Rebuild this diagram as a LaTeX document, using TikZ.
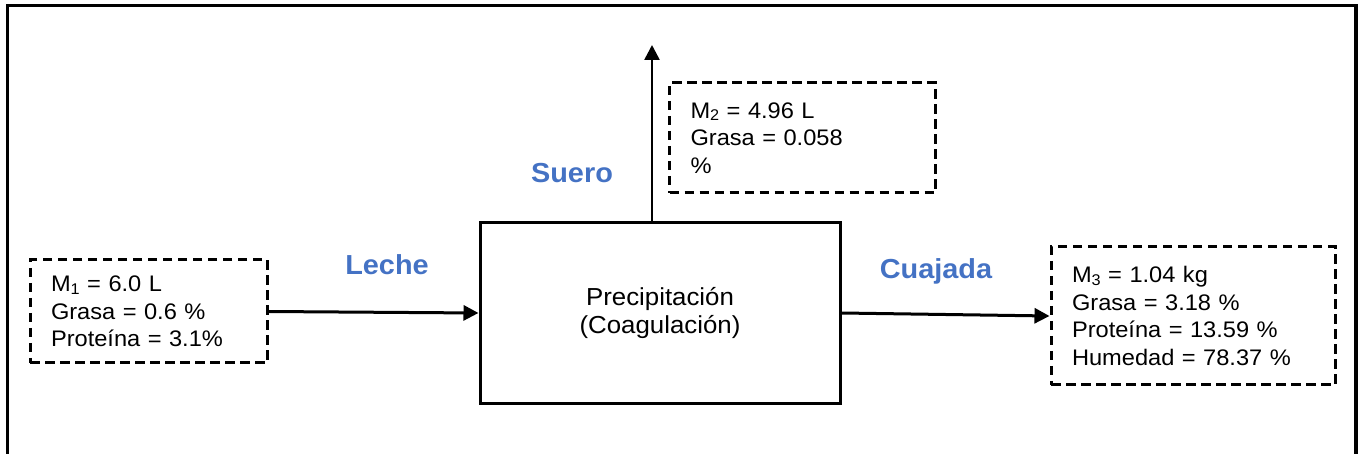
\documentclass[tikz,border=0pt]{standalone}
\usepackage{fontspec}
\setmainfont{Liberation Sans}[FakeStretch=1.05]
\usetikzlibrary{arrows.meta}
\definecolor{labelblue}{HTML}{4472C4}
% subscript digit set the way a word processor does it
\newcommand{\subd}[1]{\raisebox{-0.12em}{\fontsize{15.5}{15.5}\selectfont #1}}
\begin{document}
\begin{tikzpicture}[x=1pt,y=-1pt,
  databox/.style={draw, line width=3pt, dash pattern=on 9.5pt off 5.5pt,
    inner xsep=21pt, inner ysep=0pt, align=left,
    font=\fontsize{22.5}{27.7}\selectfont},
  procbox/.style={draw, line width=3pt, minimum width=360pt, minimum height=181pt,
    align=center, font=\fontsize{24.6}{28.5}\selectfont},
  streamlabel/.style={anchor=base, text=labelblue, font=\bfseries\fontsize{27.5}{30}\selectfont},
  flow/.style={line width=3pt, -{Triangle[length=15pt,width=15pt]}}
]
\useasboundingbox (0,0) rectangle (1361,454);

% outer frame, open at the bottom
\begin{scope}
  \clip (0,0) rectangle (1361,454);
  \draw[line width=3.4pt] (7.5,470) -- (7.5,5.5) -- (1356,5.5) -- (1356,470);
\end{scope}

% process block
\node[procbox] (proc) at (660,313) {Precipitación\\(Coagulación)};

% stream data boxes
\node[databox, text width=195pt, minimum height=103pt] (m1) at (148.5,311.5)
  {M\subd{1} = 6.0 L\\Grasa = 0.6 \%\\Proteína = 3.1\%};
\node[databox, text width=224pt, minimum height=110pt] (m2) at (802.5,138)
  {M\subd{2} = 4.96 L\\Grasa = 0.058\\\%};
\node[databox, text width=242pt, minimum height=138pt] (m3) at (1193,316)
  {M\subd{3} = 1.04 kg\\Grasa = 3.18 \%\\Proteína = 13.59 \%\\Humedad = 78.37 \%};

% stream names
\node[streamlabel] (leche) at (387,275) {Leche};
\node[streamlabel] (suero) at (572,183) {Suero};
\node[streamlabel] (cuajada) at (936,279) {Cuajada};

% flows
\coordinate (sueroend) at (652,45);
\draw[flow] (m1.east) -- (proc.west);
\draw[flow, line width=2.6pt] (proc.north -| sueroend) -- (sueroend);
\draw[flow] (proc.east) -- (m3.west);
\end{tikzpicture}
\end{document}
